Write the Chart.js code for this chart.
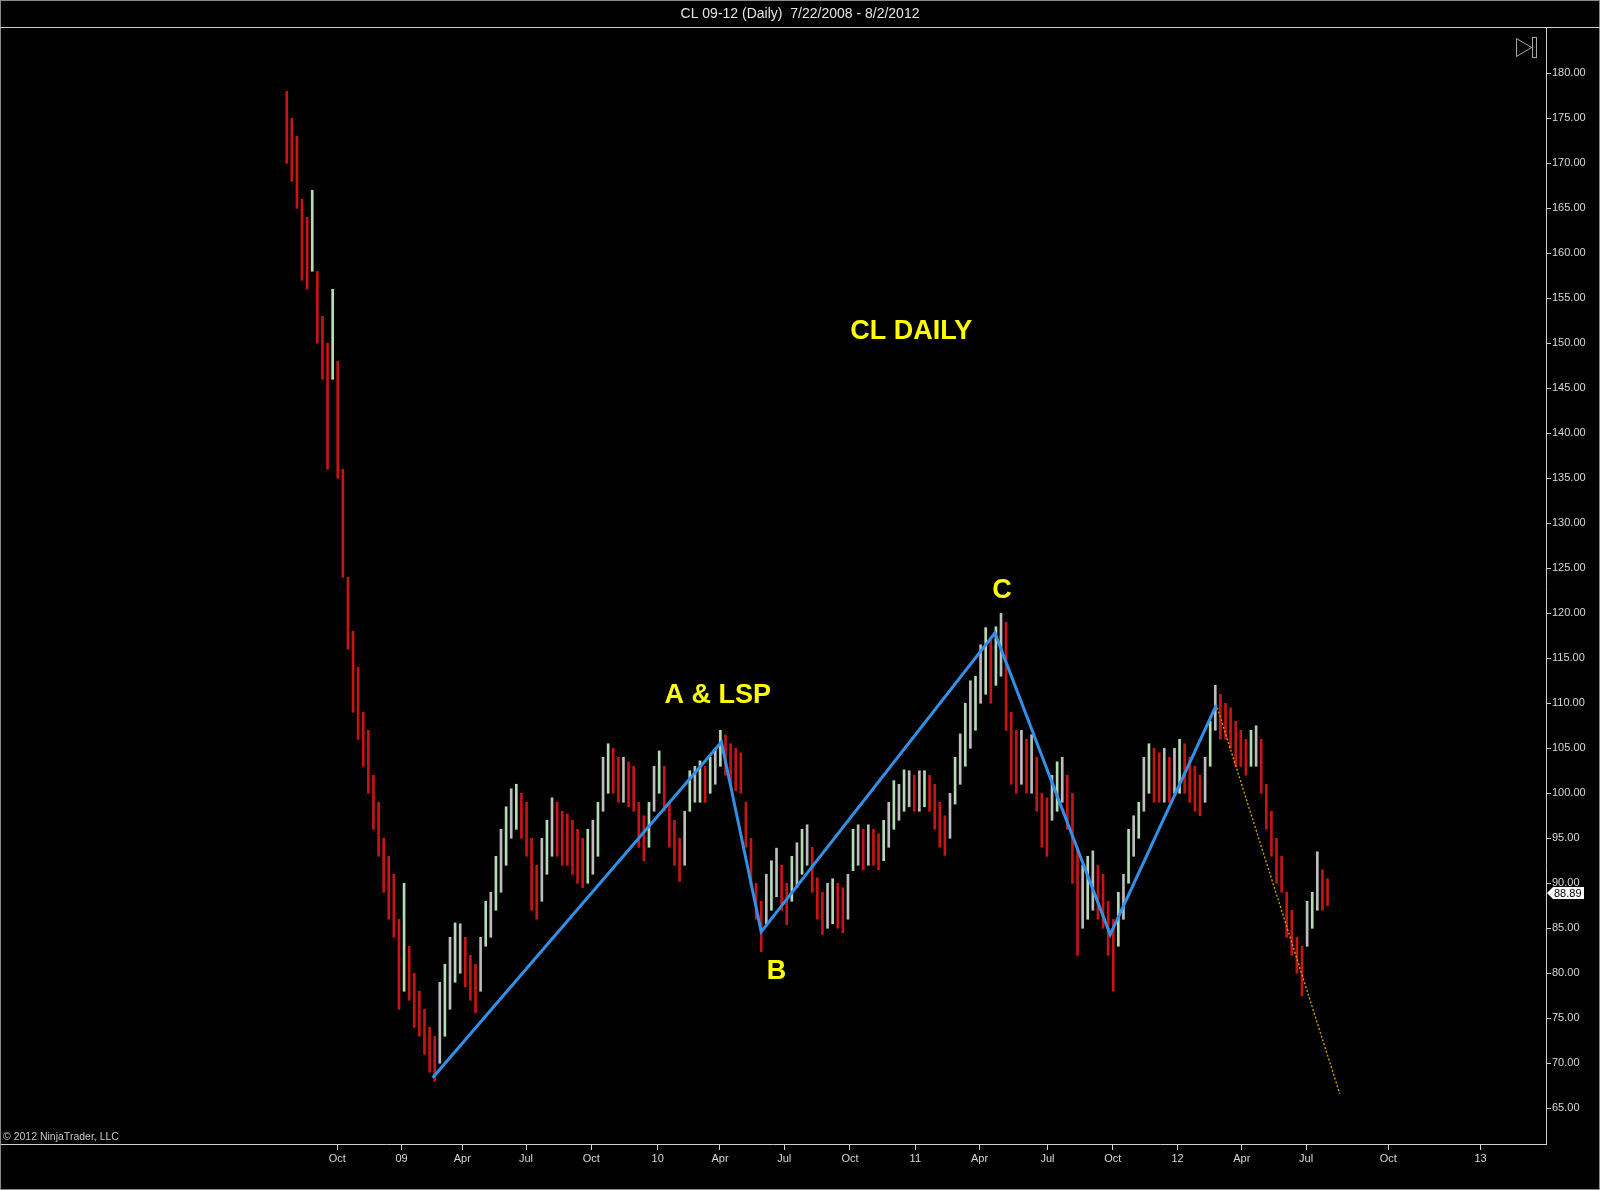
<!DOCTYPE html>
<html><head><meta charset="utf-8">
<script src="https://cdn.jsdelivr.net/npm/chart.js@4"></script>
<style>html,body{margin:0;padding:0;background:#000;overflow:hidden}canvas{display:block}</style>
</head><body>
<canvas id="c" width="1600" height="1190"></canvas>
<script>
// Weekly price ranges (low / high), one bar per 5 trading days from 7/22/2008
const weekLow = [170,168,165,157,156,158,150,146,136,146,135,124,116,109,106,103,100,96,93,89,
86,84,76,78,77,74,73,71,69,68,70,73,76,79,80,78.5,77,75.6,78,83,
84,87,89,92,95,96,95,93,87,86,88,91,93,93,92,92,91,90,89.5,90,
91,93,98,100,100,99,99,98.5,98,94,92.5,94,98,100,98,94,92,90.2,92,98,
99,99,99,100,101,103,102,101,100.3,100,94,89.8,86,82.4,85.5,87,88.5,87,85.4,88,
89.5,91,92,89,86,84.3,85,85.5,85,84.5,86,91.4,92,91.5,92,92,91.5,92.5,94,96,
97,98,98.5,98,98,98.5,98,96,94,93.1,95,98.8,101,103,105,107,110,111,110,112,
113,107,101,100,101,100,100,98,94,93,97,98,99,96,90,82,85,86,87,86,
85,82,78,83,86,90,93,95,98,100,99,99,99,99,100,100,100,99,98,97.5,
99,103,107,106,106,105,103,103,102,103,103,100,96,93,90,89,84,82,80,77.5,
83,85,87,87,87.5];
const weekHigh = [178,175,173,166,164,167,158,153,150,156,148,136,124,118,114,109,107,102,99,95,
93,91,86,90,83,80,78,76,74,73,79,81,84,85.6,85.5,84,82,81,84,88,
89,93,96,98.5,100.5,101,100,99,95,92,95,97,99.5,99,98,97.7,97,96,95,96,
97,99,104,105.5,105,104,104,103.5,103,99,97.5,99,103,104.7,103,99,97,95,98,102.5,
103,103.6,103,104,105,107,106.5,105.5,105,104.5,99,95,90,88,91,92.5,93.9,92,90,93,
94.5,96,96.5,94,90.6,89,90,90.5,90,89.5,91,96,96.5,96,96.5,96,95.5,97,99,101.4,
101,102.6,102.5,102,102.5,102.5,102,101,99,97.5,100,104,106.6,110,112.5,113,116.5,118.4,117,118.5,
120,119,109,107,107,106,106.5,104,100,99.5,102,103.5,104,102,100,94,92,93,93.6,92,
91,88,86,89,91,96,97.5,99,104,105.5,105,104.5,105,104,105,106,105.5,104,103,102,
104,108,112,111,110,109.5,108,107,106,107,107.5,106,101,98,95,93,89,87,84,83,
88,89,93.5,91.5,90.5];
const daysPerBar = 5;
const lastClose = 88.89;

// Swing line (blue) and trend line (yellow dotted), in trading-day / price units
const zigzagDays = [143, 426, 465, 694, 807, 911];
const zigzagPrices = [68.4, 105.7, 84.6, 117.8, 84.3, 109.8];
const trendDays = [912, 1032];
const trendPrices = [109.5, 66.6];

// Time axis ticks
const tickDays = [49.5, 112.5, 172, 234.5, 298.5, 363.5, 424.6, 487.5, 552, 616, 679, 745.5, 809.6, 873, 936, 999, 1079.5, 1170];
const tickLabels = ['Oct','09','Apr','Jul','Oct','10','Apr','Jul','Oct','11','Apr','Jul','Oct','12','Apr','Jul','Oct','13'];

// Chart notes
const noteTexts = ['CL DAILY', 'A & LSP', 'B', 'C'];
const noteDays = [612, 422.5, 480, 701];
const notePrices = [151.3, 110.85, 80.2, 122.5];

const titleText = 'CL 09-12 (Daily)  7/22/2008 - 8/2/2012';
const copyrightText = '\u00A9 2012 NinjaTrader, LLC';

const FONT = '"Liberation Sans", Arial, sans-serif';

const barData = weekLow.map((lo, k) => ({x: k * daysPerBar, y: [lo, weekHigh[k]]}));
const barColors = weekLow.map((lo, k) => {
  const mid = (lo + weekHigh[k]) / 2;
  const prev = k > 0 ? (weekLow[k-1] + weekHigh[k-1]) / 2 : mid + 1;
  if (mid < prev) return '#c81414';
  return (k % 2 === 0) ? '#bdbdbd' : '#b4dcb4';
});

const chromePlugin = {
  id: 'chrome',
  beforeDraw(chart) {
    const ctx = chart.ctx;
    ctx.save();
    ctx.fillStyle = '#000';
    ctx.fillRect(0, 0, chart.width, chart.height);
    ctx.restore();
  },
  afterDraw(chart) {
    const ctx = chart.ctx, a = chart.chartArea;
    const xs = chart.scales.x, ys = chart.scales.y;
    ctx.save();
    // outer frame
    ctx.strokeStyle = '#8a8a8a';
    ctx.lineWidth = 1;
    ctx.strokeRect(0.5, 0.5, chart.width - 1, chart.height - 1);
    // top separator
    ctx.strokeStyle = '#cfcfcf';
    ctx.beginPath();
    ctx.moveTo(0, Math.round(a.top) - 0.5);
    ctx.lineTo(chart.width, Math.round(a.top) - 0.5);
    ctx.stroke();
    // play-to-end icon
    ctx.strokeStyle = '#a8a8a8';
    ctx.beginPath();
    ctx.moveTo(1516.5, 38.5); ctx.lineTo(1516.5, 56.5); ctx.lineTo(1531.5, 47.5); ctx.closePath();
    ctx.stroke();
    ctx.strokeRect(1532.5, 37.5, 4, 20);
    // copyright
    ctx.fillStyle = '#c8c8c8';
    ctx.font = '10.5px ' + FONT;
    ctx.textAlign = 'left';
    ctx.textBaseline = 'alphabetic';
    ctx.fillText(copyrightText, 3, 1140);
    // last price marker
    const py = Math.round(ys.getPixelForValue(lastClose));
    const bx = a.right + 1;
    ctx.fillStyle = '#ffffff';
    ctx.beginPath();
    ctx.moveTo(bx, py);
    ctx.lineTo(bx + 6, py - 6);
    ctx.lineTo(bx + 37, py - 6);
    ctx.lineTo(bx + 37, py + 6);
    ctx.lineTo(bx + 6, py + 6);
    ctx.closePath();
    ctx.fill();
    ctx.fillStyle = '#000';
    ctx.font = '11px ' + FONT;
    ctx.textBaseline = 'middle';
    ctx.fillText(lastClose.toFixed(2), bx + 7, py + 0.5);
    // notes
    ctx.fillStyle = '#ffff00';
    ctx.font = 'bold 27px ' + FONT;
    ctx.textAlign = 'center';
    ctx.textBaseline = 'middle';
    noteTexts.forEach((t, i) => {
      ctx.fillText(t, xs.getPixelForValue(noteDays[i]), ys.getPixelForValue(notePrices[i]));
    });
    ctx.restore();
  }
};

new Chart(document.getElementById('c'), {
  type: 'bar',
  data: {
    datasets: [
      {
        type: 'line',
        data: trendDays.map((d, i) => ({x: d, y: trendPrices[i]})),
        borderColor: '#d9a400',
        borderWidth: 1.3,
        borderDash: [2, 2],
        pointRadius: 0,
        tension: 0,
        fill: false,
        order: 0
      },
      {
        type: 'line',
        data: zigzagDays.map((d, i) => ({x: d, y: zigzagPrices[i]})),
        borderColor: '#3290e6',
        borderWidth: 3,
        pointRadius: 0,
        tension: 0,
        fill: false,
        order: 1
      },
      {
        type: 'bar',
        data: barData,
        backgroundColor: barColors,
        borderWidth: 0,
        barThickness: 2,
        grouped: false,
        order: 3
      }
    ]
  },
  options: {
    responsive: false,
    animation: false,
    devicePixelRatio: 1,
    layout: {padding: 0},
    plugins: {
      legend: {display: false},
      tooltip: {enabled: false},
      title: {
        display: true,
        text: titleText,
        color: '#e6e6e6',
        font: {family: FONT, size: 14, weight: 'normal', lineHeight: 1.2},
        padding: {top: 6, bottom: 5.2}
      }
    },
    scales: {
      x: {
        type: 'linear',
        min: -281,
        max: 1234.1,
        offset: false,
        afterFit(s) { s.height = 46; },
        afterBuildTicks(s) { s.ticks = tickDays.map(v => ({value: v})); },
        ticks: {
          autoSkip: false, maxRotation: 0, minRotation: 0,
          color: '#d8d8d8', font: {family: FONT, size: 11}, padding: 2,
          callback: (v, i) => tickLabels[i]
        },
        grid: {offset: false, drawOnChartArea: false, drawTicks: true, tickLength: 6, color: '#d0d0d0'},
        border: {display: true, color: '#d0d0d0'}
      },
      y: {
        type: 'linear',
        position: 'right',
        min: 61.03,
        max: 185.03,
        afterFit(s) { s.width = 54; },
        afterBuildTicks(s) { s.ticks = s.ticks.filter(t => t.value >= 65 && t.value <= 180); },
        ticks: {
          stepSize: 5, includeBounds: false,
          color: '#d8d8d8', font: {family: FONT, size: 11}, padding: 1,
          callback: v => Number(v).toFixed(2)
        },
        grid: {drawOnChartArea: false, drawTicks: true, tickLength: 5, color: '#d0d0d0'},
        border: {display: true, color: '#d0d0d0'}
      }
    }
  },
  plugins: [chromePlugin]
});
</script>
</body></html>
